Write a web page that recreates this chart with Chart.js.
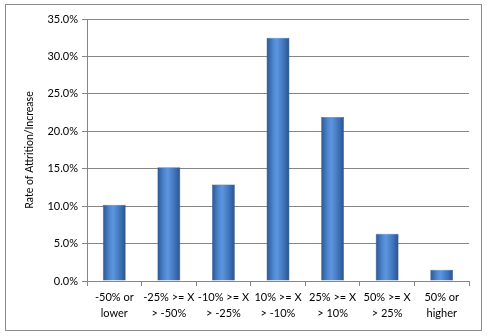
<!DOCTYPE html>
<html>
<head>
<meta charset="utf-8">
<script src="https://cdn.jsdelivr.net/npm/chart.js@4/dist/chart.umd.min.js"></script>
<style>
  body { margin: 0; background: #fff; }
  #wrap { position: absolute; left: 5px; top: 4px; width: 475px; height: 325px; border: 1px solid #8c8c8c; }
</style>
</head>
<body>
<div id="wrap"><canvas id="myChart" width="475" height="325"></canvas></div>
<script>
const categories = [
  ["-50% or", "lower"],
  ["-25% >= X", "> -50%"],
  ["-10% >= X", "> -25%"],
  ["10% >= X", "> -10%"],
  ["25% >= X", "> 10%"],
  ["50% >= X", "> 25%"],
  ["50% or", "higher"]
];
const rates = [10.2, 15.2, 12.9, 32.5, 21.9, 6.3, 1.5];
const yTitle = "Rate of Attrition/Increase";

// shade each bar left-to-right like the cylinder look in the original
const barShade = {
  id: 'barShade',
  beforeDatasetsDraw(chart) {
    const ctx = chart.ctx;
    chart.getDatasetMeta(0).data.forEach(function (bar) {
      const l = bar.x - bar.width / 2, r = bar.x + bar.width / 2;
      const g = ctx.createLinearGradient(l, 0, r, 0);
      g.addColorStop(0, '#2b5690');
      g.addColorStop(0.3, '#4f88d2');
      g.addColorStop(0.45, '#5d96de');
      g.addColorStop(0.75, '#3f74bb');
      g.addColorStop(1, '#2a5289');
      bar.options = Object.assign({}, bar.options, { backgroundColor: g });
    });
  }
};

const font = { family: 'Lato, "Liberation Sans", sans-serif', size: 11 };

new Chart("myChart", {
  type: "bar",
  data: {
    labels: categories,
    datasets: [{
      data: rates,
      backgroundColor: () => '#4a7fc4',
      borderColor: '#315b95',
      borderWidth: 0.5,
      categoryPercentage: 1,
      barPercentage: 0.42
    }]
  },
  plugins: [barShade],
  options: {
    responsive: false,
    animation: false,
    layout: { padding: { left: 0, top: 14, right: 12, bottom: 0 } },
    plugins: { legend: { display: false }, tooltip: { enabled: false } },
    scales: {
      x: {
        grid: { offset: true, drawOnChartArea: false, color: '#868686', tickLength: 5 },
        border: { color: '#868686' },
        ticks: { color: '#000', font: { ...font, lineHeight: 1.5 }, padding: 3, maxRotation: 0, autoSkip: false },
        afterFit(s) { s.height = 49; }
      },
      y: {
        min: 0, max: 35,
        grid: { color: '#868686', tickLength: 5 },
        border: { color: '#868686' },
        ticks: {
          stepSize: 5, color: '#000', font: font, padding: 4,
          callback: v => v.toFixed(1) + '%'
        },
        title: { display: true, text: yTitle, color: '#000', font: { ...font, size: 10.5 }, padding: { top: 17, bottom: 0 } },
        afterFit(s) { s.width = 81; }
      }
    }
  }
});
</script>
</body>
</html>
